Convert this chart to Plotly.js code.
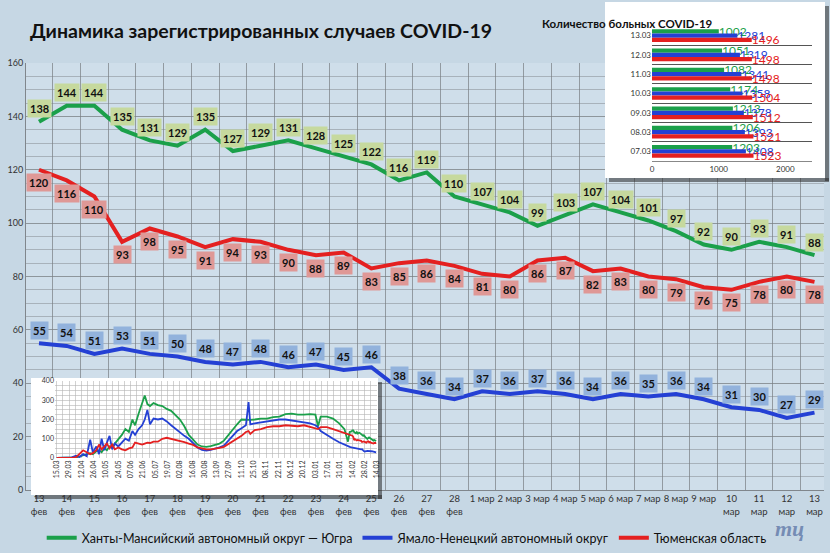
<!DOCTYPE html>
<html>
<head>
<meta charset="utf-8">
<script src="https://cdn.plot.ly/plotly-3.0.1.min.js"></script>
<style>
  html, body { margin: 0; padding: 0; background: #c6d7e4; }
  #plot { width: 830px; height: 553px; }
</style>
</head>
<body>
<div id="plot"></div>
<script>
// main chart: 13 feb .. 13 mar
const categories = [
  '13<br>фев', '14<br>фев', '15<br>фев', '16<br>фев', '17<br>фев', '18<br>фев', '19<br>фев', '20<br>фев',
  '21<br>фев', '22<br>фев', '23<br>фев', '24<br>фев', '25<br>фев', '26<br>фев', '27<br>фев', '28<br>фев',
  '1 мар', '2 мар', '3 мар', '4 мар', '5 мар', '6 мар', '7 мар', '8 мар', '9 мар',
  '10<br>мар', '11<br>мар', '12<br>мар', '13<br>мар'
];
const hmao = [138, 144, 144, 135, 131, 129, 135, 127, 129, 131, 128, 125, 122, 116, 119, 110,
  107, 104, 99, 103, 107, 104, 101, 97, 92, 90, 93, 91, 88];
const yanao = [55, 54, 51, 53, 51, 50, 48, 47, 48, 46, 47, 45, 46, 38, 36, 34,
  37, 36, 37, 36, 34, 36, 35, 36, 34, 31, 30, 27, 29];
const tyumen = [120, 116, 110, 93, 98, 95, 91, 94, 93, 90, 88, 89, 83, 85, 86, 84,
  81, 80, 86, 87, 82, 83, 80, 79, 76, 75, 78, 80, 78];
const seriesNames = ['Ханты-Мансийский автономный округ — Югра', 'Ямало-Ненецкий автономный округ', 'Тюменская область'];

// top-right inset: patients
const barDates = ['13.03', '12.03', '11.03', '10.03', '09.03', '08.03', '07.03'];
const barHmao = [1002, 1051, 1082, 1174, 1213, 1206, 1203];
const barYanao = [1281, 1319, 1341, 1358, 1378, 1393, 1408];
const barTyumen = [1496, 1498, 1498, 1504, 1512, 1521, 1523];

// bottom-left inset: whole epidemic
const histDates = ['2020-03-15', '2020-03-25', '2020-04-01', '2020-04-06', '2020-04-10', '2020-04-14', '2020-04-18',
  '2020-04-22', '2020-04-25', '2020-04-29', '2020-05-02', '2020-05-05', '2020-05-08', '2020-05-11', '2020-05-14',
  '2020-05-17', '2020-05-20', '2020-05-24', '2020-05-28', '2020-06-01', '2020-06-05', '2020-06-09', '2020-06-12',
  '2020-06-16', '2020-06-20', '2020-06-23', '2020-06-26', '2020-06-29', '2020-07-03', '2020-07-08', '2020-07-13',
  '2020-07-18', '2020-07-23', '2020-07-28', '2020-08-02', '2020-08-07', '2020-08-12', '2020-08-17', '2020-08-22',
  '2020-08-27', '2020-09-01', '2020-09-06', '2020-09-11', '2020-09-16', '2020-09-21', '2020-09-26', '2020-10-01',
  '2020-10-06', '2020-10-11', '2020-10-16', '2020-10-19', '2020-10-21', '2020-10-26', '2020-11-02', '2020-11-09',
  '2020-11-16', '2020-11-23', '2020-11-30', '2020-12-07', '2020-12-14', '2020-12-21', '2020-12-28', '2021-01-03',
  '2021-01-06', '2021-01-09', '2021-01-16', '2021-01-23', '2021-01-30', '2021-02-05', '2021-02-09', '2021-02-11'];
const histHmao = [0, 0, 2, 3, 8, 15, 20, 25, 20, 35, 40, 30, 50, 40, 60, 55, 75, 95, 120, 150, 135, 200, 170,
  230, 290, 325, 280, 270, 285, 275, 270, 255, 245, 225, 200, 165, 120, 95, 70, 60, 58, 62, 68, 75, 90, 120, 145,
  175, 200, 198, 195, 198, 200, 205, 205, 212, 215, 228, 230, 225, 225, 228, 225, 165, 215, 215, 205, 180, 150, 85, 135];
const histYanao = [0, 0, 3, 12, 5, 20, 10, 95, 30, 60, 20, 100, 40, 80, 115, 45, 75, 60, 80, 100, 90, 140, 120,
  150, 170, 200, 250, 175, 205, 200, 205, 190, 170, 150, 130, 115, 100, 80, 55, 42, 38, 42, 48, 55, 65, 90, 120,
  140, 155, 170, 290, 175, 180, 185, 190, 195, 200, 200, 195, 190, 185, 180, 170, 160, 140, 118, 100, 82, 68, 62, 58];
const histTyumen = [0, 0, 1, 5, 25, 40, 30, 20, 25, 40, 70, 45, 60, 75, 50, 70, 45, 55, 45, 40, 50, 55, 80,
  75, 70, 75, 80, 78, 85, 85, 100, 105, 100, 92, 88, 82, 75, 68, 55, 48, 45, 45, 48, 52, 58, 72, 88,
  100, 115, 135, 140, 125, 145, 150, 160, 165, 165, 170, 168, 165, 170, 160, 155, 150, 160, 160, 150, 140, 128, 125, 122];

const GREEN = 'rgb(27,160,74)';
const BLUE = 'rgb(36,64,212)';
const RED = 'rgb(228,32,32)';
const FONT = 'Lato, Roboto, Arial, sans-serif';

const W = 830, H = 553;
const px = v => v / W;
const py = v => 1 - v / H;

// last month of the inset = main chart values
const mainDates = [];
for (let i = 0; i < categories.length; i++) {
  const d = new Date(Date.UTC(2021, 1, 13 + i));
  mainDates.push(d.toISOString().slice(0, 10));
}
const insetDates = histDates.concat(mainDates);

function lineTrace(y, name, color) {
  return {
    x: categories, y: y, name: name, type: 'scatter', mode: 'lines',
    line: { color: color, width: 4 }, hoverinfo: 'skip'
  };
}

function insetTrace(y, color) {
  return {
    x: insetDates, y: y, type: 'scatter', mode: 'lines', xaxis: 'x5', yaxis: 'y5',
    line: { color: color, width: 1.8 }, showlegend: false, hoverinfo: 'skip'
  };
}

function barTrace(x, color) {
  return {
    x: x, y: barDates, type: 'bar', orientation: 'h', xaxis: 'x3', yaxis: 'y3',
    marker: { color: color }, texttemplate: '%{x}', textposition: 'outside',
    textfont: { family: FONT, size: 12, color: color }, constraintext: 'none',
    cliponaxis: false, showlegend: false, hoverinfo: 'skip'
  };
}

// empty trace so that a white card subplot exists
function cardTrace(xa, ya) {
  return { x: [], y: [], type: 'scatter', mode: 'lines', xaxis: xa, yaxis: ya, showlegend: false, hoverinfo: 'skip' };
}

function pointLabels(values, bg, shift) {
  return values.map((v, i) => ({
    x: categories[i], y: v, xref: 'x', yref: 'y', showarrow: false,
    text: '<b>' + v + '</b>', yshift: shift, bgcolor: bg, borderpad: 2,
    font: { family: FONT, size: 11, color: '#111' }
  }));
}

const data = [
  lineTrace(hmao, seriesNames[0], GREEN),
  lineTrace(yanao, seriesNames[1], BLUE),
  lineTrace(tyumen, seriesNames[2], RED),
  cardTrace('x2', 'y2'),
  barTrace(barHmao, GREEN),
  barTrace(barYanao, BLUE),
  barTrace(barTyumen, RED),
  cardTrace('x4', 'y4'),
  insetTrace(histHmao.concat(hmao), GREEN),
  insetTrace(histYanao.concat(yanao), BLUE),
  insetTrace(histTyumen.concat(tyumen), RED)
];

const hidden = { visible: false, fixedrange: true, range: [0, 1] };

const layout = {
  width: W,
  height: H,
  margin: { l: 0, r: 0, t: 0, b: 0 },
  paper_bgcolor: '#c6d7e4',
  plot_bgcolor: '#ffffff',
  font: { family: FONT, color: '#333' },
  hovermode: false,
  title: {
    text: '<b>Динамика зарегистрированных случаев COVID-19</b>',
    x: px(30), xanchor: 'left', y: py(31), yanchor: 'middle',
    font: { family: FONT, size: 19.5, color: '#111' }
  },
  showlegend: true,
  legend: {
    orientation: 'h', x: 0.49, xanchor: 'center', y: py(538), yanchor: 'middle',
    font: { family: FONT, size: 12.5, color: '#111' }, bgcolor: 'rgba(0,0,0,0)'
  },
  barmode: 'group',
  bargap: 0.34,
  bargroupgap: 0,
  xaxis: {
    domain: [px(26), px(824)], anchor: 'y', type: 'category', tickson: 'boundaries',
    showgrid: true, gridcolor: 'rgba(120,125,130,0.7)', ticks: '', tickangle: 0,
    tickfont: { size: 9.5, color: '#333' }, showline: true, linecolor: 'rgba(120,125,130,0.9)',
    fixedrange: true
  },
  yaxis: {
    domain: [py(490), py(63)], anchor: 'x', range: [0, 160], dtick: 20,
    showgrid: true, gridcolor: 'rgba(120,125,130,0.75)',
    minor: { dtick: 5, showgrid: true, gridcolor: 'rgba(120,125,130,0.45)' },
    zeroline: false, ticks: '', tickfont: { size: 9, color: '#333' },
    showline: true, linecolor: 'rgba(120,125,130,0.9)', fixedrange: true
  },
  // white card behind the bar inset
  xaxis2: Object.assign({ domain: [px(605), px(825)], anchor: 'y2' }, hidden),
  yaxis2: Object.assign({ domain: [py(178), py(2)], anchor: 'x2' }, hidden),
  xaxis3: {
    domain: [px(652), px(812)], anchor: 'y3', range: [0, 2400], tickvals: [0, 1000, 2000],
    showgrid: false, zeroline: false, ticks: '', showline: true, linecolor: '#888',
    tickfont: { size: 8, color: '#333' }, fixedrange: true
  },
  yaxis3: {
    domain: [py(161), py(26)], anchor: 'x3', type: 'category', autorange: 'reversed',
    tickson: 'boundaries', showgrid: true, gridcolor: '#555', ticks: '',
    tickfont: { size: 8, color: '#333' }, fixedrange: true
  },
  // white card behind the history inset
  xaxis4: Object.assign({ domain: [px(31), px(378)], anchor: 'y4' }, hidden),
  yaxis4: Object.assign({ domain: [py(495), py(378)], anchor: 'x4' }, hidden),
  xaxis5: {
    domain: [px(55), px(377)], anchor: 'y5', type: 'date', range: ['2020-03-13', '2021-03-14'],
    tick0: '2020-03-15', dtick: 14 * 86400000, tickformat: '%d.%m', tickangle: -90,
    showgrid: true, gridcolor: '#b4b4b4', gridwidth: 0.6,
    minor: { dtick: 7 * 86400000, showgrid: true, gridcolor: '#b4b4b4', gridwidth: 0.6 },
    ticks: '', tickfont: { size: 7, color: '#333' }, showline: false, fixedrange: true
  },
  yaxis5: {
    domain: [py(458), py(381)], anchor: 'x5', range: [0, 400], dtick: 100,
    showgrid: true, gridcolor: '#b4b4b4', gridwidth: 0.6,
    minor: { dtick: 25, showgrid: true, gridcolor: '#b4b4b4', gridwidth: 0.6 },
    zeroline: false, ticks: '', tickfont: { size: 7, color: '#333' }, fixedrange: true
  },
  shapes: [
    // main plot area tint
    { type: 'rect', xref: 'x domain', yref: 'y domain', x0: 0, x1: 1, y0: 0, y1: 1,
      fillcolor: '#cfdeea', line: { width: 0 }, layer: 'below' },
    // card shadows
    { type: 'rect', xref: 'paper', yref: 'paper', x0: px(825), x1: px(829), y0: py(181), y1: py(6),
      fillcolor: 'rgba(40,40,40,0.55)', line: { width: 0 }, layer: 'above' },
    { type: 'rect', xref: 'paper', yref: 'paper', x0: px(609), x1: px(829), y0: py(182), y1: py(178),
      fillcolor: 'rgba(40,40,40,0.55)', line: { width: 0 }, layer: 'above' },
    { type: 'rect', xref: 'paper', yref: 'paper', x0: px(378), x1: px(382), y0: py(499), y1: py(382),
      fillcolor: 'rgba(40,40,40,0.55)', line: { width: 0 }, layer: 'above' },
    { type: 'rect', xref: 'paper', yref: 'paper', x0: px(35), x1: px(382), y0: py(499), y1: py(495),
      fillcolor: 'rgba(40,40,40,0.55)', line: { width: 0 }, layer: 'above' }
  ],
  annotations: [].concat(
    pointLabels(hmao, '#c6d99e', 13),
    pointLabels(yanao, '#92b2dc', 13),
    pointLabels(tyumen, '#df9896', -13),
    [
      { xref: 'paper', yref: 'paper', x: px(715), y: py(15), showarrow: false,
        text: '<b>Количество больных COVID-19</b>', font: { family: FONT, size: 11.5, color: '#111' } },
      { xref: 'paper', yref: 'paper', x: px(806), y: py(543), showarrow: false,
        text: '<b><i>тц</i></b>', font: { family: 'Liberation Serif, serif', size: 22, color: 'rgba(90,115,165,0.75)' } }
    ]
  )
};

const config = { staticPlot: true, displayModeBar: false };

Plotly.newPlot('plot', data, layout, config);
</script>
</body>
</html>
